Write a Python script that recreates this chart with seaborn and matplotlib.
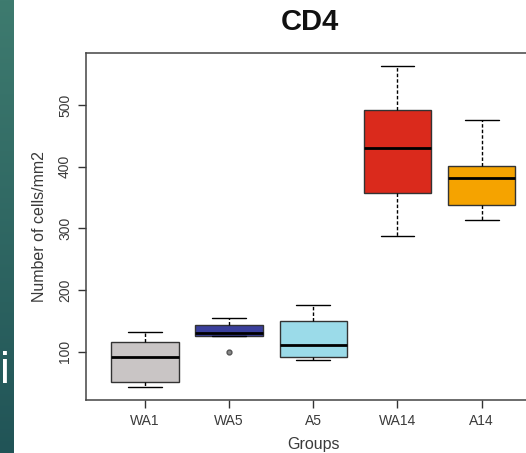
import numpy as np
import pandas as pd
import matplotlib
matplotlib.use("Agg")
import matplotlib.pyplot as plt
import seaborn as sns

# ── data (five values per group: min, q1, median, q3, max / outlier) ──────────
groups = ["WA1", "WA5", "A5", "WA14", "A14"]
wa1  = [42, 51, 91, 116, 132]
wa5  = [99, 126, 131, 143, 155]
a5   = [87, 92, 111, 150, 176]
wa14 = [287, 358, 430, 492, 564]
a14  = [314, 338, 382, 401, 476]
colors = ["#c9c5c5", "#3a3f9c", "#9bdbe9", "#da2a1c", "#f5a300"]

df = pd.DataFrame({
    "group": np.repeat(groups, 5),
    "cells": wa1 + wa5 + a5 + wa14 + a14,
})

sns.set_style("ticks")
plt.rcParams["font.family"] = ["Liberation Sans", "DejaVu Sans"]

W, H = 526, 453
fig = plt.figure(figsize=(W / 100, H / 100), dpi=100)

# slide strip on the left
strip = fig.add_axes([0, 0, 14 / W, 1])
grad = np.linspace(0, 1, 256).reshape(-1, 1)
strip.imshow(grad, aspect="auto",
             cmap=matplotlib.colors.LinearSegmentedColormap.from_list(
                 "teal", ["#3e7b6f", "#215457"]))
strip.set_axis_off()
fig.text(5 / W, (H - 383) / H, "i", color="white", fontsize=32,
         ha="center", va="baseline")

# plot region (R-style box, right edge cut off by the image)
left, right, top, bottom = 86, 540.6, 52.6, 400.4
ax = fig.add_axes([left / W, (H - bottom) / H, (right - left) / W, (bottom - top) / H])

sns.boxplot(data=df, x="group", y="cells", hue="group", palette=colors,
            order=groups, hue_order=groups, legend=False, saturation=1,
            width=0.8, linecolor="#333333", linewidth=1.0, ax=ax,
            medianprops=dict(color="black", linewidth=2.0),
            whiskerprops=dict(color="black", linewidth=1.0, linestyle=(0, (2.5, 1.5))),
            capprops=dict(color="black", linewidth=1.0),
            flierprops=dict(marker="o", markersize=3.5, markerfacecolor="#888888",
                            markeredgecolor="#555555"))

ax.set_xlim(-0.7, 4.7)
ax.set_ylim(21, 585)
ax.set_yticks([100, 200, 300, 400, 500])
ax.set_yticklabels(["100", "200", "300", "400", "500"], rotation=90, va="center")
ax.tick_params(axis="both", length=6, width=1, color="#333333",
               labelsize=10, labelcolor="#3a3a3a", pad=4)
for s in ["left", "bottom", "top", "right"]:
    ax.spines[s].set_visible(True)
    ax.spines[s].set_color("#444444")
    ax.spines[s].set_linewidth(1.1)

ax.set_xlabel("Groups", fontsize=11.5, color="#3a3a3a", labelpad=6)
ax.set_ylabel("Number of cells/mm2", fontsize=11.5, color="#3a3a3a", labelpad=8)
fig.text(310 / W, (H - 22) / H, "CD4", fontsize=21, fontweight="bold",
         ha="center", va="center", color="#111111")

fig.savefig("out.png", dpi=100)
